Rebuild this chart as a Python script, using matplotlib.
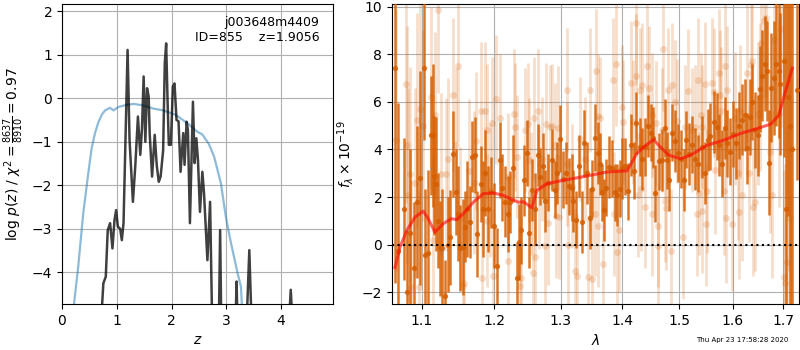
import matplotlib
matplotlib.use("Agg")
import matplotlib.pyplot as plt
from matplotlib.ticker import FixedLocator, FormatStrFormatter, NullLocator


# p(z) panel
PZ_Z = [0.72, 0.755, 0.799, 0.835, 0.878, 0.921, 0.958, 0.988, 1.019, 1.062,
        1.092, 1.123, 1.197, 1.233, 1.294, 1.337, 1.386, 1.429, 1.460, 1.490,
        1.521, 1.552, 1.582, 1.600, 1.644, 1.692, 1.730, 1.766, 1.800, 1.846,
        1.876, 1.901, 1.931, 1.950, 1.987, 2.023, 2.054, 2.090, 2.127, 2.164,
        2.213, 2.237, 2.274, 2.298, 2.335, 2.390, 2.421, 2.452, 2.482, 2.518,
        2.562, 2.592, 2.654, 2.703, 2.745, 2.860, 2.886, 2.910, 3.170, 3.187,
        3.200, 3.360, 3.419, 3.468, 4.150, 4.175, 4.200]
PZ_LOGP = [-5.0, -4.25, -4.10, -3.03, -2.87, -3.45, -2.80, -2.57, -2.95, -3.00,
           -3.26, -2.87, 1.11, -0.96, -2.38, -1.57, -0.42, -1.30, -0.69, 0.50,
           -1.00, 0.23, 0.04, -0.80, -1.80, -0.84, -1.55, -1.92, -1.80, -1.20,
           0.80, 1.26, -0.27, -1.07, -1.07, 0.27, 0.34, -0.50, -0.53, -1.69,
           -0.80, -1.53, -0.54, -0.73, -2.87, -0.08, -1.49, -0.92, -1.43, -2.61,
           -1.69, -2.18, -3.72, -2.38, -5.5, -5.5, -3.03, -5.5, -5.0, -4.21,
           -5.0, -5.5, -3.49, -5.5, -5.0, -4.40, -5.0]

CHI2_Z = [0.204, 0.296, 0.388, 0.480, 0.541, 0.603, 0.664, 0.725, 0.786, 0.847,
          0.878, 0.940, 1.030, 1.153, 1.306, 1.460, 1.674, 1.850, 2.070, 2.286,
          2.470, 2.560, 2.680, 2.776, 2.900, 2.990, 3.080, 3.205, 3.266, 3.290]
CHI2_SCALED = [-4.9, -3.87, -2.64, -1.72, -1.15, -0.80, -0.55, -0.38, -0.28, -0.24,
               -0.22, -0.28, -0.20, -0.16, -0.13, -0.16, -0.24, -0.28, -0.38, -0.57,
               -0.77, -0.83, -1.05, -1.34, -1.95, -2.72, -3.30, -4.02, -4.33, -4.9]

# binned spectrum
BIN_WAVE = [1.0651, 1.0686, 1.0760, 1.0803, 1.0842, 1.0895, 1.0934, 1.0973, 1.1023, 1.1044,
            1.1074, 1.1125, 1.1147, 1.1165, 1.1188, 1.1214, 1.1241, 1.1268, 1.1313, 1.1350,
            1.1382, 1.1419, 1.1461, 1.1488, 1.1520, 1.1551, 1.1582, 1.1614, 1.1652, 1.1688,
            1.1722, 1.1754, 1.1807, 1.1840, 1.1875, 1.1915, 1.1954, 1.1993, 1.2036, 1.2081,
            1.2119, 1.2158, 1.2207, 1.2236, 1.2281, 1.2331, 1.2365, 1.2395, 1.2445, 1.2490,
            1.2520, 1.2556, 1.2606, 1.2647, 1.2687, 1.2723, 1.2759, 1.2810, 1.2863, 1.2914,
            1.2950, 1.2997, 1.3044, 1.3087, 1.3134, 1.3177, 1.3202, 1.3250, 1.3293, 1.3336,
            1.3378, 1.3422, 1.3476, 1.3508, 1.3557, 1.3606, 1.3629, 1.3667, 1.3695, 1.3739,
            1.3784, 1.3825, 1.3878, 1.3916, 1.3962, 1.4001, 1.4052, 1.4103, 1.4159, 1.4205,
            1.4244, 1.4303, 1.4348, 1.4390, 1.4447, 1.4494, 1.4534, 1.4574, 1.4639, 1.4692,
            1.4740, 1.4776, 1.4817, 1.4871, 1.4930, 1.4979, 1.5028, 1.5075, 1.5124, 1.5173,
            1.5221, 1.5284, 1.5345, 1.5406, 1.5475, 1.5518, 1.5568, 1.5631, 1.5695, 1.5738,
            1.5789, 1.5839, 1.5885, 1.5948, 1.6000, 1.6064, 1.6123, 1.6181, 1.6226, 1.6273,
            1.6324, 1.6371, 1.6423, 1.6483, 1.6522, 1.6576, 1.6622, 1.6670, 1.6717, 1.6751,
            1.6804, 1.6853, 1.6906, 1.6940, 1.7009, 1.7052, 1.7090, 1.7135, 1.7187, 1.7291]
BIN_FLUX = [7.4, -0.25, 1.5, -2.0, 0.5, -1.0, 1.8, 2.8, 7.4, -0.45,
            -0.35, 4.6, 4.6, 2.9, 2.55, 1.0, -0.15, -0.15, -2.15, 0.0,
            0.3, 3.8, 2.2, 1.3, -0.15, -0.1, 0.75, 1.5, 0.95, 3.7,
            3.75, 0.45, 2.55, 1.5, 3.0, 1.5, 2.2, 0.8, -0.9, 3.55,
            2.4, 1.8, 1.3, 1.8, 3.2, -1.4, 0.1, 0.6, 2.7, 3.85,
            0.5, 2.3, 1.5, 3.75, 2.85, 3.3, 1.85, 2.6, 3.55, 2.3,
            3.0, 4.45, 2.75, 3.0, 2.45, 2.4, 1.85, 1.05, 3.3, 0.95,
            4.25, 3.0, 1.1, 2.35, 4.5, 3.85, 3.4, 2.2, 1.45, 2.4,
            3.25, 3.2, 2.2, 2.1, 2.35, 3.2, 3.3, 2.25, 4.2, 3.1,
            5.1, 4.1, 3.6, 4.1, 5.0, 4.7, 4.5, 2.15, 3.5, 3.55,
            4.9, 3.55, 2.7, 4.7, 4.35, 3.85, 3.6, 2.7, 4.4, 3.8,
            4.2, 3.6, 3.4, 4.1, 3.0, 4.4, 4.55, 5.15, 4.95, 4.2,
            3.4, 4.9, 4.25, 3.9, 4.65, 4.25, 5.0, 5.25, 5.45, 4.05,
            5.35, 6.0, 4.8, 4.6, 6.55, 7.1, 7.6, 7.3, 3.45, 6.6,
            7.0, 7.6, 7.3, 6.75, 7.7, 1.5, 6.2, 5.0, 4.0, 6.5]
BIN_ERR = [9.0, 6.2, 3.0, 2.6, 3.5, 2.8, 3.2, 4.5, 3.0, 2.8,
           3.5, 2.5, 3.0, 2.5, 2.8, 2.0, 2.0, 2.5, 1.5, 2.0,
           2.0, 1.8, 1.8, 2.0, 1.8, 2.0, 1.5, 2.0, 1.5, 1.5,
           1.6, 1.8, 1.6, 2.0, 1.8, 1.8, 1.5, 1.8, 1.6, 1.6,
           1.4, 1.5, 1.6, 1.3, 1.4, 1.5, 1.6, 1.4, 1.5, 1.4,
           1.5, 1.3, 1.5, 1.3, 1.2, 1.4, 1.3, 1.2, 1.3, 1.2,
           1.3, 1.4, 1.2, 1.3, 1.2, 1.4, 1.3, 1.2, 1.3, 1.3,
           1.4, 1.3, 1.3, 1.2, 1.4, 1.3, 1.3, 1.2, 1.3, 1.2,
           1.3, 1.2, 1.2, 1.3, 1.2, 1.3, 1.2, 1.2, 1.3, 1.2,
           1.3, 1.2, 1.3, 1.2, 1.3, 1.2, 1.3, 1.2, 1.2, 1.3,
           1.2, 1.2, 1.3, 1.2, 1.3, 1.2, 1.2, 1.3, 1.2, 1.3,
           1.2, 1.3, 1.2, 1.3, 1.3, 1.3, 1.4, 1.3, 1.4, 1.3,
           1.4, 1.3, 1.4, 1.4, 1.4, 1.5, 1.4, 1.5, 1.5, 1.5,
           1.6, 1.6, 1.6, 1.7, 1.8, 1.9, 2.0, 2.1, 2.2, 2.3,
           2.4, 2.6, 2.8, 3.0, 4.0, 10.0, 5.0, 12.0, 12.0, 3.8]

# unbinned spectrum
RAW_WAVE = [1.0660, 1.0794, 1.0800, 1.0816, 1.0846, 1.0858, 1.0911, 1.0934, 1.0964, 1.0977,
            1.1009, 1.1125, 1.1147, 1.1178, 1.1214, 1.1258, 1.1325, 1.1350, 1.1419, 1.1461,
            1.1488, 1.1520, 1.1554, 1.1576, 1.1638, 1.1708, 1.1740, 1.1815, 1.1825, 1.1862,
            1.1896, 1.1902, 1.1944, 1.1969, 1.1976, 1.2027, 1.2089, 1.2198, 1.2207, 1.2296,
            1.2303, 1.2336, 1.2380, 1.2395, 1.2455, 1.2505, 1.2512, 1.2545, 1.2580, 1.2595,
            1.2606, 1.2656, 1.2667, 1.2708, 1.2759, 1.2774, 1.2810, 1.2836, 1.2872, 1.2914,
            1.2925, 1.2966, 1.2981, 1.3098, 1.3108, 1.3124, 1.3186, 1.3229, 1.3256, 1.3309,
            1.3390, 1.3433, 1.3471, 1.3498, 1.3552, 1.3564, 1.3597, 1.3606, 1.3629, 1.3684,
            1.3850, 1.3858, 1.3905, 1.3913, 1.3945, 1.4001, 1.4018, 1.4159, 1.4188, 1.4228,
            1.4236, 1.4274, 1.4303, 1.4320, 1.4348, 1.4390, 1.4418, 1.4459, 1.4505, 1.4522,
            1.4592, 1.4610, 1.4622, 1.4692, 1.4710, 1.4740, 1.4768, 1.4799, 1.4847, 1.4871,
            1.4930, 1.4966, 1.5069, 1.5100, 1.5148, 1.5221, 1.5284, 1.5314, 1.5345, 1.5364,
            1.5395, 1.5406, 1.5420, 1.5475, 1.5481, 1.5507, 1.5600, 1.5631, 1.5663, 1.5725,
            1.5757, 1.5771, 1.5820, 1.5839, 1.5872, 1.5885, 1.5980, 1.6045, 1.6090, 1.6110,
            1.6142, 1.6175, 1.6273, 1.6305, 1.6358, 1.6380, 1.6391, 1.6437, 1.6483, 1.6536,
            1.6556, 1.6616, 1.6657, 1.6737, 1.6771, 1.6818, 1.6920, 1.6954, 1.7009, 1.7042,
            1.7077, 1.7111, 1.7131]
RAW_FLUX = [4.4, 6.75, 4.2, 2.1, 2.95, -1.8, 2.6, 5.25, -1.8, 5.7,
            5.0, 6.2, 0.2, 5.45, 9.85, 2.95, 2.95, 3.6, 6.3, 4.2,
            7.5, 1.1, -1.75, -1.6, 3.1, 2.6, 4.35, 5.6, -1.4, 5.6,
            4.8, 1.0, 2.3, 5.1, -1.3, 6.1, 5.3, 2.85, -0.7, 5.5,
            4.95, 3.7, -1.75, -1.4, 4.8, 5.05, 3.55, 2.15, -1.2, 5.3,
            -0.5, 5.6, 2.4, 3.6, -0.05, 5.05, 0.9, 4.95, 5.0, 4.2,
            1.2, 4.9, 1.15, 6.5, 3.4, 0.0, 2.45, -1.1, -1.3, 4.45,
            3.6, -1.35, 6.5, -1.45, 1.3, 7.3, 5.4, 0.8, 5.3, -0.8,
            6.9, 1.3, 7.6, -0.3, 0.6, 5.8, 5.15, 6.8, 5.15, 9.3,
            7.1, 2.1, 6.5, 2.35, 6.7, 1.6, 7.5, 6.6, 1.3, 5.45,
            5.1, 0.8, -0.05, 4.8, 8.2, 1.85, 1.55, 6.5, -0.25, 6.7,
            6.0, 5.2, 0.3, 4.95, 6.45, 4.8, 4.95, 1.3, 6.9, 2.15,
            5.45, 1.4, 4.95, 6.75, 0.85, 2.25, 6.8, 6.4, 3.15, 7.2,
            6.3, 5.6, 2.25, 7.5, 1.1, 6.5, 0.85, 5.3, 3.0, 1.35,
            5.6, 2.1, 7.2, 3.0, 7.55, 7.7, 1.6, 1.8, 5.5, 6.2,
            8.45, 9.4, 9.5, 3.9, 2.1, 8.6, 5.5, 9.05, -1.35, -1.6,
            -0.75, 4.9, 1.1]
RAW_ERR = [5.5, 5.0, 5.0, 4.5, 4.5, 4.5, 4.0, 4.5, 4.0, 4.5,
           4.0, 3.8, 3.5, 3.5, 3.5, 3.4, 3.2, 3.4, 3.2, 3.2,
           3.2, 3.0, 3.0, 3.0, 3.0, 3.0, 2.9, 2.9, 2.9, 2.9,
           2.8, 2.8, 2.8, 2.8, 2.8, 2.7, 2.7, 2.7, 2.7, 2.7,
           2.7, 2.6, 2.6, 2.6, 2.6, 2.6, 2.6, 2.6, 2.6, 2.6,
           2.6, 2.6, 2.6, 2.6, 2.6, 2.6, 2.6, 2.6, 2.6, 2.6,
           2.6, 2.6, 2.6, 2.6, 2.6, 2.6, 2.6, 2.6, 2.6, 2.6,
           2.6, 2.6, 2.6, 2.6, 2.6, 2.6, 2.6, 2.6, 2.6, 2.6,
           2.6, 2.6, 2.6, 2.6, 2.6, 2.6, 2.6, 2.6, 2.6, 2.6,
           2.6, 2.6, 2.6, 2.6, 2.6, 2.6, 2.6, 2.6, 2.6, 2.6,
           2.6, 2.6, 2.6, 2.6, 2.6, 2.6, 2.6, 2.6, 2.6, 2.6,
           2.6, 2.6, 2.6, 2.6, 2.6, 2.6, 2.6, 2.6, 2.6, 2.6,
           2.6, 2.6, 2.6, 2.6, 2.6, 2.6, 2.7, 2.7, 2.7, 2.7,
           2.7, 2.7, 2.7, 2.7, 2.7, 2.7, 2.8, 2.8, 2.8, 2.8,
           2.8, 2.8, 2.9, 2.9, 2.9, 2.9, 2.9, 2.9, 3.0, 3.1,
           3.1, 3.2, 3.3, 3.4, 3.5, 3.6, 3.9, 4.1, 4.5, 5.0,
           5.5, 6.0, 6.5]

# best-fit model
MODEL_WAVE = [1.0648, 1.0712, 1.0799, 1.0907, 1.1017, 1.1083, 1.1173, 1.1285, 1.1400, 1.1469,
              1.1562, 1.1702, 1.1844, 1.1988, 1.2134, 1.2233, 1.2357, 1.2431, 1.2558, 1.2634,
              1.2788, 1.3045, 1.3472, 1.3746, 1.4082, 1.4253, 1.4367, 1.4541, 1.4660, 1.4808,
              1.5023, 1.5205, 1.5514, 1.5827, 1.6149, 1.6477, 1.6744, 1.6912, 1.7014, 1.7187]
MODEL_FLUX = [-0.96, -0.11, 0.59, 1.15, 1.41, 1.09, 0.52, 0.88, 1.09, 1.05,
              1.30, 1.78, 2.14, 2.17, 2.07, 1.93, 1.78, 1.80, 1.55, 2.28,
              2.56, 2.70, 2.91, 3.05, 3.10, 3.83, 4.10, 4.41, 4.10, 3.76,
              3.61, 3.76, 4.18, 4.39, 4.67, 4.88, 5.06, 5.44, 6.22, 7.41]

ROOT = "j003648m4409"
OBJ_ID = 855
Z_BEST = 1.9056
STAMP = "Thu Apr 23 17:58:28 2020"

G141_COLOR = "#d55e00"


def main():
    fig = plt.figure(figsize=(8, 3.5), dpi=100)

    # left: redshift probability
    ax = fig.add_axes([0.0775, 0.131, 0.339, 0.857])
    ax.plot(CHI2_Z, CHI2_SCALED, color="tab:blue", alpha=0.5, lw=1.6)
    ax.plot(PZ_Z, PZ_LOGP, color="k", alpha=0.75, lw=1.8)
    ax.set_xlim(0, 4.95)
    ax.set_ylim(-4.73, 2.16)
    ax.set_xticks([0, 1, 2, 3, 4])
    ax.set_yticks([-4, -3, -2, -1, 0, 1, 2])
    ax.grid()
    ax.set_xlabel(r"$z$")
    ax.set_ylabel(r"log $p(z)$ / $\chi^2=\frac{8637}{8910}=0.97$")
    ax.text(0.95, 0.96, f"{ROOT}\nID={OBJ_ID}    z={Z_BEST:.4f}",
            ha="right", va="top", transform=ax.transAxes, fontsize=9)

    # right: 1D spectrum
    ax = fig.add_axes([0.49, 0.131, 0.509, 0.857])
    ax.errorbar(RAW_WAVE, RAW_FLUX, yerr=RAW_ERR, fmt="o", color=G141_COLOR,
                alpha=0.2, ms=5, mec="none", elinewidth=2.0, zorder=2)
    ax.errorbar(BIN_WAVE, BIN_FLUX, yerr=BIN_ERR, fmt="o", color=G141_COLOR,
                alpha=0.85, ms=3.8, mec="none", elinewidth=1.8, zorder=3)
    ax.plot(MODEL_WAVE, MODEL_FLUX, color="r", alpha=0.6, lw=2.2, zorder=4)
    ax.axhline(0, color="k", ls=":", lw=1.5, zorder=5)

    ax.set_xscale("log")
    ax.set_xlim(1.061, 1.733)
    ax.set_ylim(-2.5, 10.1)
    ax.xaxis.set_major_locator(FixedLocator([1.1, 1.2, 1.3, 1.4, 1.5, 1.6, 1.7]))
    ax.xaxis.set_major_formatter(FormatStrFormatter("%.1f"))
    ax.xaxis.set_minor_locator(NullLocator())
    ax.set_yticks([-2, 0, 2, 4, 6, 8, 10])
    ax.grid()
    ax.set_xlabel(r"$\lambda$")
    ax.set_ylabel(r"$f_\lambda \times 10^{-19}$")

    fig.text(1 - 0.015, 0.02, STAMP, ha="right", va="bottom", fontsize=5)

    fig.savefig("out.png", dpi=100)
    plt.close(fig)


if __name__ == "__main__":
    main()
